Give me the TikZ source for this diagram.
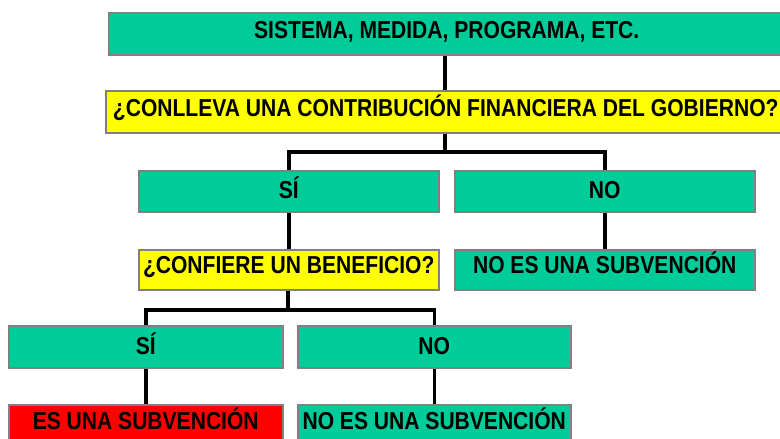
\documentclass[tikz,border=0pt]{standalone}
\usepackage{fontspec}
\setmainfont{Liberation Sans}[FakeStretch=0.86]
\definecolor{boxgreen}{RGB}{0,204,153}
\definecolor{boxyellow}{RGB}{255,255,0}
\definecolor{boxred}{RGB}{255,0,0}
\definecolor{boxborder}{RGB}{128,128,128}
\tikzset{
  flowbox/.style={draw=boxborder, line width=1.5pt, inner sep=0pt, anchor=north west,
    font=\fontsize{24.5}{28}\selectfont\bfseries, text=black,
    text height=17.5pt, text depth=8pt},
  greenbox/.style={flowbox, fill=boxgreen},
  yellowbox/.style={flowbox, fill=boxyellow},
  redbox/.style={flowbox, fill=boxred},
  link/.style={line width=3.5pt, black},
}
\begin{document}
\begin{tikzpicture}[x=1pt,y=-1pt]
\useasboundingbox (0,0) rectangle (780,439);
\clip (0,0) rectangle (780,439);
\node[greenbox, minimum width=676pt, minimum height=42pt] (top) at (108,12) {SISTEMA, MEDIDA, PROGRAMA, ETC.};
\node[yellowbox, minimum width=680pt, minimum height=42pt] (q1) at (105,90) {¿CONLLEVA UNA CONTRIBUCIÓN FINANCIERA DEL GOBIERNO?};
\node[greenbox, minimum width=300pt, minimum height=41pt, text depth=3pt] (si1) at (138,170) {SÍ};
\node[greenbox, minimum width=300pt, minimum height=41pt, text depth=3pt] (no1) at (454,170) {NO};
\node[yellowbox, minimum width=300pt, minimum height=40pt, text depth=10pt] (q2) at (138,249) {¿CONFIERE UN BENEFICIO?};
\node[greenbox, minimum width=300pt, minimum height=40pt, text depth=10pt] (nosub1) at (454,249) {NO ES UNA SUBVENCIÓN};
\node[greenbox, minimum width=274pt, minimum height=42pt, text depth=3pt] (si2) at (8,325) {SÍ};
\node[greenbox, minimum width=273pt, minimum height=42pt, text depth=3pt] (no2) at (297,325) {NO};
\node[redbox, minimum width=274pt, minimum height=38pt, text depth=7pt] (sub) at (8,404) {ES UNA SUBVENCIÓN};
\node[greenbox, minimum width=273pt, minimum height=38pt, text depth=7pt] (nosub2) at (297,404) {NO ES UNA SUBVENCIÓN};
\coordinate (j1) at (445,152);
\coordinate (j2) at (288,310);
\draw[link] (j1 |- top.south) -- (j1 |- q1.north);
\draw[link] (j1 |- q1.south) -- (j1);
\draw[link] (si1.north) |- (j1) -| (no1.north);
\draw[link] (si1.south) -- (q2.north);
\draw[link] (no1.south) -- (nosub1.north);
\draw[link] (j2 |- q2.south) -- (j2);
\draw[link] (si2.north) |- (j2) -| (no2.north);
\draw[link] (si2.south) -- (sub.north);
\draw[link] (no2.south) -- (nosub2.north);
\end{tikzpicture}
\end{document}
